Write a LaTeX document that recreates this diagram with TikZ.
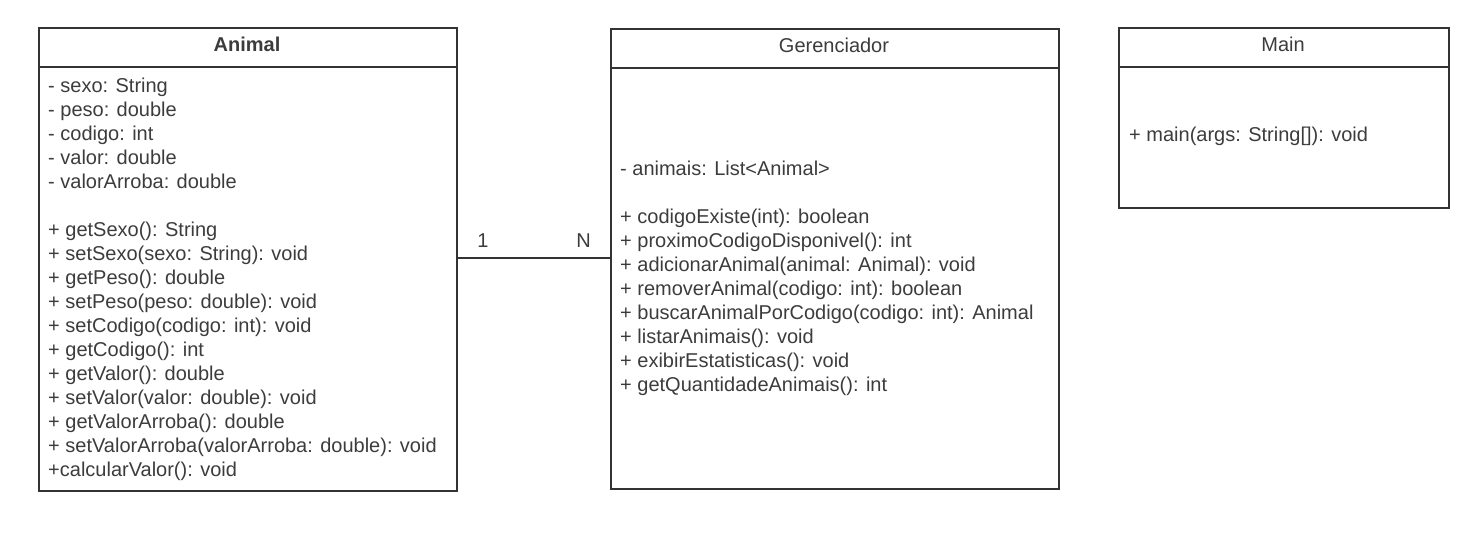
\documentclass[tikz,border=0pt]{standalone}
\usepackage{fontspec}
\setmainfont{Liberation Sans}
\definecolor{ink}{HTML}{333333}
\definecolor{txt}{HTML}{3C3C3C}
\begin{document}
\begin{tikzpicture}[x=1pt,y=-1pt,
  box/.style={draw=ink, line width=2pt, inner sep=0pt, anchor=north west},
  divider/.style={draw=ink, line width=2pt},
  member/.style={anchor=base west, inner sep=0pt, text=txt, font=\fontsize{20}{24}\selectfont},
  title/.style={anchor=base, inner sep=0pt, text=txt, font=\fontsize{20}{24}\selectfont},
  assoc/.style={draw=ink, line width=1.3pt},
  mult/.style={anchor=base, inner sep=0pt, text=txt, font=\fontsize{20}{24}\selectfont}]
\useasboundingbox (0,0) rectangle (1477,536);

% ---------- Animal ----------
\node[box, minimum width=418pt, minimum height=463pt] (animal) at (38,27) {};
\draw[divider] ([yshift=-40pt]animal.north west) -- ([yshift=-40pt]animal.north east);
\node[title, font=\fontsize{20}{24}\selectfont\bfseries] (animalT) at (247,51) {Animal};
\foreach \t [count=\i from 0] in {{- sexo: String},{- peso: double},{- codigo: int},{- valor: double},{- valorArroba: double}}
  \node[member] (aa\i) at (48,92+24*\i) {\t};
\foreach \t [count=\i from 0] in {{+ getSexo(): String},{+ setSexo(sexo: String): void},{+ getPeso(): double},{+ setPeso(peso: double): void},{+ setCodigo(codigo: int): void},{+ getCodigo(): int},{+ getValor(): double},{+ setValor(valor: double): void},{+ getValorArroba(): double},{+ setValorArroba(valorArroba: double): void},{+calcularValor(): void}}
  \node[member] (am\i) at (48,236+24*\i) {\t};

% ---------- Gerenciador ----------
\node[box, minimum width=448pt, minimum height=460pt] (ger) at (610,27.5) {};
\draw[divider] ([yshift=-40pt]ger.north west) -- ([yshift=-40pt]ger.north east);
\node[title] (gerT) at (834,52) {Gerenciador};
\node[member] (ga0) at (620,175) {- animais: List<Animal>};
\foreach \t [count=\i from 0] in {{+ codigoExiste(int): boolean},{+ proximoCodigoDisponivel(): int},{+ adicionarAnimal(animal: Animal): void},{+ removerAnimal(codigo: int): boolean},{+ buscarAnimalPorCodigo(codigo: int): Animal},{+ listarAnimais(): void},{+ exibirEstatisticas(): void},{+ getQuantidadeAnimais(): int}}
  \node[member] (gm\i) at (620,223+24*\i) {\t};

% ---------- Main ----------
\node[box, minimum width=330pt, minimum height=180pt] (main) at (1118,27) {};
\draw[divider] ([yshift=-40pt]main.north west) -- ([yshift=-40pt]main.north east);
\node[title] (mainT) at (1283,51) {Main};
\node[member] (mm0) at (1129,141) {+ main(args: String[]): void};

% ---------- Association ----------
\coordinate (lvl) at (0,258);
\draw[assoc] (animal.east |- lvl) -- (ger.west |- lvl);
\node[mult] (m1) at (483,247) {1};
\node[mult] (mN) at (583.5,247) {N};
\end{tikzpicture}
\end{document}
